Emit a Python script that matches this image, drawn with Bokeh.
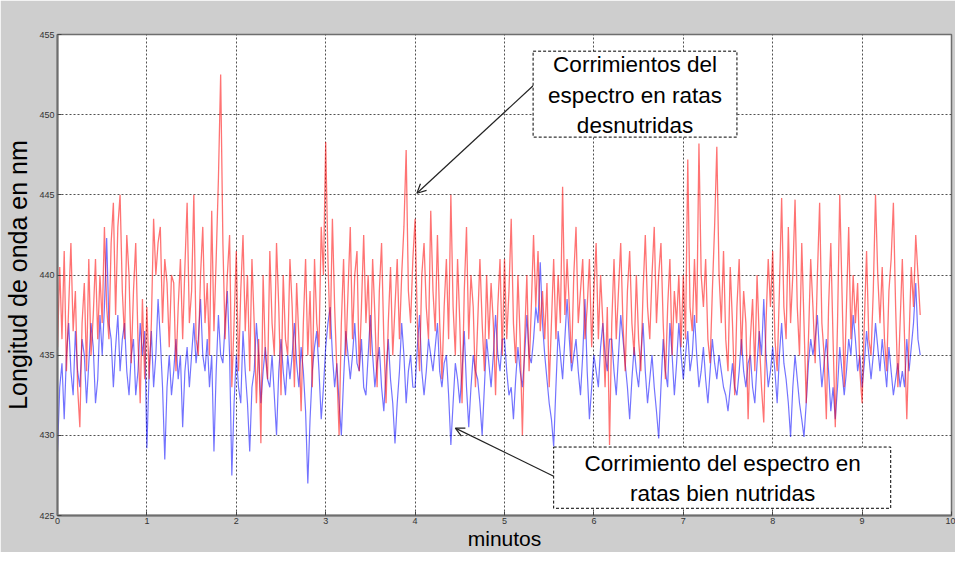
from bokeh.plotting import figure
from bokeh.models import Range1d, BoxAnnotation, Label, Arrow, OpenHead, FixedTicker
from bokeh.embed import file_html
from bokeh.resources import INLINE

# ---------------- data ----------------
paso_min = 0.025  # sampling step in minutes

desnutridas = [
    # minute 0
    435.5, 440.5, 436, 441.5, 434, 438, 442, 436.5, 439, 433, 430.5, 437, 439.5, 434, 441, 435, 437.5, 441, 436, 440,
    437, 443, 438, 436, 442, 444.5, 437.5, 443, 445, 439, 436, 442.5, 440, 434.5, 439, 442, 436, 432, 438.5, 433.5,
    # minute 1
    438, 433.5, 437, 443.5, 440, 442, 443, 437, 441, 439.5, 435.5, 440, 439.5, 434, 438, 441, 436, 440.5, 444.5, 437,
    439, 445, 436, 435, 440, 443, 437, 439.5, 435, 444, 436.5, 441, 446, 452.5, 442, 436, 440, 442.5, 433, 437,
    # minute 2
    441.5, 434, 439, 442.5, 436.5, 440, 434, 441, 437, 432, 436, 429.5, 440, 435, 433.5, 441.5, 437, 435, 442, 438,
    432.5, 440, 436, 435, 441, 438, 433, 439.5, 436, 431.5, 437, 441, 435, 439, 433, 441, 437, 435.5, 443, 440,
    # minute 3
    448.3, 441, 436, 443.5, 438, 434, 430, 437, 441, 435, 439, 443, 436, 440, 441.5, 434, 438, 442.5, 437, 440,
    435, 441, 437.5, 433, 439, 442, 436, 432, 437, 440.5, 435, 438, 441, 436, 440, 443, 447.8, 439, 437, 441,
    # minute 4
    443.5, 437, 434, 440, 442, 438, 436, 444, 439, 436.5, 442.5, 437, 433.5, 438, 441, 436, 445, 438, 435, 441,
    437, 432, 439, 443, 436, 440, 438, 433, 437, 441, 437, 434, 440, 436, 439.5, 437, 432.5, 438, 441, 435,
    # minute 5
    441, 436, 439, 443.5, 437, 434.5, 440, 436, 430, 436, 440, 434, 438, 442.5, 438, 441.5, 436.5, 439, 436, 439.5,
    433, 437, 441, 436, 440, 437, 445.5, 437.5, 441, 438, 434.5, 440, 443, 437, 439, 441, 436, 438, 441, 435.5,
    # minute 6
    439, 442, 436, 440, 437, 433, 438, 429.4, 437, 441, 436, 439, 442, 437, 434, 439, 441.5, 437, 435, 440,
    436, 434, 439, 442.5, 438, 436, 440, 443, 437, 440, 442, 437, 433.5, 438, 441, 435, 439, 437, 440, 435.5,
    # minute 7
    440, 436, 447.2, 438, 436.5, 441, 437, 448.2, 440, 438, 441, 436, 434.5, 439, 443, 448, 440, 437, 441.5, 436,
    434, 440.5, 437, 432.5, 438, 441, 435, 439, 437, 431, 436, 438.5, 434, 440, 436, 433, 430.8, 437, 441, 438,
    # minute 8
    441.5, 436, 434, 439, 444.8, 438, 436, 443, 437, 440, 444.7, 438, 435, 442, 437, 432, 436, 441, 438, 434.5,
    440, 444.5, 437, 435, 431, 438, 442, 436, 430.5, 437, 445, 439, 433, 438, 443, 436, 440, 437, 439.5, 434,
    # minute 9
    432, 437, 441.5, 436, 435, 439, 445, 440, 437, 440.5, 436, 434, 439, 441, 444.5, 438, 433, 437, 441, 436,
    431, 436, 440.5, 438, 442.5, 440, 437.5,
]

bien_nutridas = [
    # minute 0
    429, 433, 434.5, 431, 435, 437, 434, 432.5, 436.5, 434, 433, 436, 435, 432, 434.5, 437, 435.5, 432, 433.5, 437.5,
    435, 438, 442.3, 437, 436, 433, 435.5, 437.5, 434, 436, 437, 434, 432.5, 435, 436, 432.5, 434, 437, 435, 436.5,
    # minute 1
    429.2, 434, 436.5, 433, 435, 438.5, 436, 433, 428.5, 433, 435, 432.5, 434, 436, 433.5, 435, 430.5, 434, 435.5, 433,
    435, 437, 434.5, 436, 438.5, 435, 434, 436, 433, 435, 429, 434, 437.5, 435, 434.5, 437, 439, 435, 427.5, 432,
    # minute 2
    435, 433, 432, 436.5, 434, 432, 429, 433, 434, 437, 435, 432, 434, 435.5, 433.5, 433, 435, 432.5, 430, 434,
    436, 434, 432.5, 435, 433.5, 435, 437, 434.5, 433, 435.5, 434, 431.5, 427, 431, 434, 435.5, 436.5, 434, 431, 433,
    # minute 3
    435.5, 437, 438, 435, 433, 434.5, 432, 430, 433.5, 436.5, 435, 433.5, 435, 437, 434.5, 434, 436, 433, 432.5, 435,
    437.5, 435, 433, 434.5, 435.5, 433, 431.5, 434, 436, 433.5, 432, 429.5, 432, 434, 437, 435, 432, 434, 435, 433,
    # minute 4
    433, 435.5, 437.5, 434, 432.5, 434, 436, 435, 434, 435.5, 437, 434, 433, 434.5, 435, 432.5, 429.4, 432, 434.5, 433.5,
    432, 434, 436.5, 433, 430.5, 433, 435, 434, 433.5, 432, 430, 433, 436, 434.5, 433, 435, 437.5, 435, 434, 436,
    # minute 5
    436, 434, 432.5, 433, 431, 433.5, 435.5, 434, 433, 435, 437.5, 435, 434.5, 436, 438, 437, 440.8, 437, 435, 433.5,
    432, 431, 429.3, 433, 436.5, 435, 433.5, 436, 438.5, 436, 434, 435, 436, 434, 432.5, 435, 438.5, 434, 431, 433,
    # minute 6
    435, 434, 433, 435.5, 437, 435, 434, 436, 436, 434, 432.5, 435, 437.5, 436, 434.5, 433, 431, 433.5, 435.5, 434,
    433, 435, 437, 434, 432, 433.5, 435, 433, 431.5, 429.8, 433, 436, 434, 433, 437, 435, 432.5, 434.5, 437, 435,
    # minute 7
    433.5, 435, 436.5, 434, 435, 437.5, 435, 433, 434, 435.5, 433.5, 432, 434, 436, 434.5, 433.5, 435, 434, 433, 432.5,
    431.5, 433, 434.5, 433, 432.5, 434, 436, 434, 433, 434.5, 435, 433, 432, 434.5, 436.5, 435, 438.5, 435, 433, 434,
    # minute 8
    435.5, 434, 432, 435, 437, 434.5, 433.5, 432, 429.9, 433, 435, 433.5, 432, 431, 429.9, 432, 434.5, 436, 435, 436,
    437.5, 435, 433, 434.5, 436, 434, 431.5, 433, 431, 433, 435.5, 434, 432.5, 434, 436, 435, 437.5, 436, 434, 435,
    # minute 9
    433, 434.5, 436.5, 435, 433.5, 435, 437, 435.5, 434, 436, 434.5, 433, 435.5, 434, 432.5, 433.5, 434.5, 433, 434, 433,
    436, 434, 435.5, 437, 439.5, 436, 435,
]

minutos = [round(i * paso_min, 3) for i in range(len(desnutridas))]

x_ticks = [0, 1, 2, 3, 4, 5, 6, 7, 8, 9, 10]
y_ticks = [425, 430, 435, 440, 445, 450, 455]

texto_desnutridas = ["Corrimientos del", "espectro en ratas", "desnutridas"]
texto_nutridas = ["Corrimiento del espectro en", "ratas bien nutridas"]

# ---------------- figure ----------------
p = figure(
    width=955, height=552,
    x_range=Range1d(0, 10), y_range=Range1d(425, 455),
    output_backend="svg", toolbar_location=None,
    min_border_left=57, min_border_right=4, min_border_top=34, min_border_bottom=34,
)
p.border_fill_color = "#cecece"
p.background_fill_color = "white"
p.outline_line_color = "#6e6e6e"
p.outline_line_width = 1.5

for ax in (p.xaxis[0], p.yaxis[0]):
    ax.axis_line_color = "#6e6e6e"
    ax.axis_line_width = 2
    ax.major_tick_in = 4
    ax.major_tick_out = 0
    ax.major_tick_line_color = "#444444"
    ax.minor_tick_line_color = None
    ax.major_label_text_font = "Liberation Sans"
    ax.major_label_text_font_size = "9px"
    ax.major_label_text_color = "#333333"
    ax.axis_label_text_font = "Liberation Sans"
    ax.axis_label_text_font_style = "normal"
    ax.axis_label_text_color = "black"

p.xaxis.ticker = FixedTicker(ticks=x_ticks)
p.yaxis.ticker = FixedTicker(ticks=y_ticks)
p.xaxis.axis_label = "minutos"
p.yaxis.axis_label = "Longitud de onda en nm"
p.xaxis.axis_label_text_font_size = "21px"
p.yaxis.axis_label_text_font_size = "25px"
p.xaxis.axis_label_standoff = 0
p.yaxis.axis_label_standoff = 4
p.xaxis.major_label_standoff = 2
p.yaxis.major_label_standoff = 3

for g in (p.xgrid[0], p.ygrid[0]):
    g.grid_line_color = "#333333"
    g.grid_line_dash = "2 2"
    g.grid_line_width = 1
    g.grid_line_alpha = 0.85

p.line(minutos, bien_nutridas, line_color="#0000ff", line_alpha=0.55, line_width=1.2)
p.line(minutos, desnutridas, line_color="#ff0000", line_alpha=0.55, line_width=1.3)

# ---------------- annotations ----------------
p.add_layout(Arrow(end=OpenHead(size=9, line_color="#222222", line_width=1.2),
                   x_start=5.32, y_start=451.8, x_end=4.02, y_end=445.1,
                   line_color="#222222", line_width=1.2))
p.add_layout(Arrow(end=OpenHead(size=9, line_color="#222222", line_width=1.2),
                   x_start=5.55, y_start=427.45, x_end=4.45, y_end=430.45,
                   line_color="#222222", line_width=1.2))

p.add_layout(BoxAnnotation(left=5.32, right=7.6, top=453.96, bottom=448.6,
                           fill_color="white", fill_alpha=1, line_color="black", line_alpha=1,
                           line_dash="3 2", line_width=1))
p.add_layout(BoxAnnotation(left=5.55, right=9.32, top=429.27, bottom=425.45,
                           fill_color="white", fill_alpha=1, line_color="black", line_alpha=1,
                           line_dash="3 2", line_width=1))

for t, yy in zip(texto_desnutridas, [453.15, 451.2, 449.3]):
    p.add_layout(Label(x=6.46, y=yy, text=t, text_align="center", text_baseline="middle",
                       text_font="Liberation Sans", text_font_size="22.5px", text_color="black"))
for t, yy in zip(texto_nutridas, [428.25, 426.35]):
    p.add_layout(Label(x=7.44, y=yy, text=t, text_align="center", text_baseline="middle",
                       text_font="Liberation Sans", text_font_size="22.5px", text_color="black"))

open("out.html", "w").write(file_html(p, INLINE))
